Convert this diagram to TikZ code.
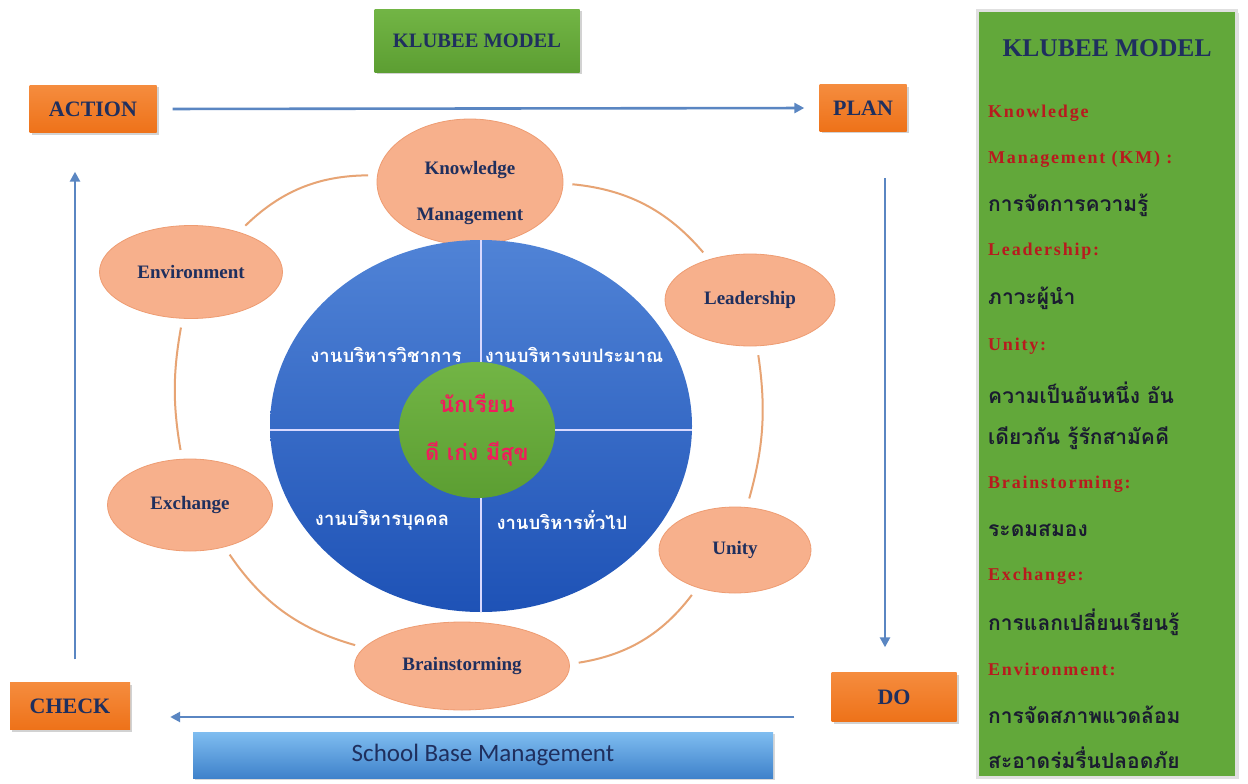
\documentclass[tikz,border=0pt]{standalone}
\usepackage{fontspec}
\setmainfont{Liberation Serif}
\newfontfamily\thaifont[Script=Thai]{Loma}
\newfontfamily\calfont{Carlito}
\newfontfamily\spacedserif[LetterSpace=10]{Liberation Serif}
\usetikzlibrary{shapes.geometric,arrows.meta,shadows}
\definecolor{navy}{HTML}{1F2F5E}
\definecolor{arrowblue}{HTML}{5A86C2}
\definecolor{peach}{HTML}{F7B08C}
\definecolor{peachline}{HTML}{EE9C72}
\definecolor{ringc}{HTML}{E7A474}
\definecolor{orngA}{HTML}{F58C3E}
\definecolor{orngB}{HTML}{EE7219}
\definecolor{grnA}{HTML}{72B545}
\definecolor{grnB}{HTML}{5C9E32}
\definecolor{panelg}{HTML}{62A83A}
\definecolor{redlab}{HTML}{B81A1E}
\definecolor{pinkred}{HTML}{F01C5C}
\definecolor{blueA}{HTML}{5083D6}
\definecolor{blueB}{HTML}{1E52B6}
\definecolor{sbmA}{HTML}{7FBDF0}
\definecolor{sbmB}{HTML}{3F82CB}
\definecolor{thaidark}{HTML}{1A1C30}
\tikzset{
  obox/.style={rectangle, top color=orngA, bottom color=orngB, draw=none,
    drop shadow={shadow xshift=2pt, shadow yshift=-2pt, opacity=0.35},
    font=\bfseries\fontsize{22}{22}\selectfont, text=navy, inner sep=0pt},
  peachell/.style={ellipse, fill=peach, draw=peachline, line width=0.8pt, inner sep=0pt,
    font=\bfseries\fontsize{19}{19}\selectfont, text=navy},
  flow/.style={draw=arrowblue, line width=2.6pt, -{Triangle[length=10pt,width=10pt]}},
  ring/.style={draw=ringc, line width=2pt, shorten <=9pt, shorten >=9pt},
  quad/.style={font=\thaifont\bfseries\fontsize{18.5}{18.5}\selectfont, text=white, inner sep=0pt},
  redl/.style={anchor=west, font=\spacedserif\bfseries\fontsize{18}{18}\selectfont, text=redlab, inner sep=0pt},
  thl/.style={anchor=west, font=\thaifont\bfseries\fontsize{21}{21}\selectfont, text=thaidark, inner sep=0pt},
}
\begin{document}
\begin{tikzpicture}[x=1pt,y=-1pt]
\useasboundingbox (0,0) rectangle (1248,784);
\fill[white] (0,0) rectangle (1248,784);

% top title
\node[rectangle, top color=grnA, bottom color=grnB, minimum width=205pt, minimum height=63pt,
  drop shadow={shadow xshift=2pt, shadow yshift=-2pt, opacity=0.35},
  font=\bfseries\fontsize{20.5}{20.5}\selectfont, text=navy] (title) at (477,41) {KLUBEE MODEL};

% PDCA boxes
\node[obox, minimum width=127pt, minimum height=47pt] (action) at (93,109) {ACTION};
\node[obox, minimum width=87pt, minimum height=46pt] (plan) at (863,108) {PLAN};
\node[obox, minimum width=120pt, minimum height=47pt] (check) at (70,706) {CHECK};
\node[obox, minimum width=125pt, minimum height=49pt] (do) at (894,697) {DO};

% School base management
\node[rectangle, top color=sbmA, bottom color=sbmB, minimum width=580pt, minimum height=46pt,
  drop shadow={shadow xshift=2pt, shadow yshift=-2pt, opacity=0.3},
  font=\calfont\fontsize{25}{25}\selectfont, text=navy] (sbm) at (483,755) {School Base Management};

% PDCA arrows
\draw[flow, shorten <=16pt, shorten >=15pt] (action.east) -- (plan.west);
\draw[flow, shorten <=47pt, shorten >=25pt] ([xshift=22pt]plan.south) -- ([xshift=-9pt]do.north);
\draw[flow, shorten <=37pt, shorten >=40pt] ([yshift=-20pt]do.west) -- ([yshift=-11pt]check.east);
\draw[flow, shorten <=23pt, shorten >=39pt] ([xshift=5pt]check.north) -- ([xshift=-18pt]action.south);

% peach ellipses
\node[peachell, minimum width=186pt, minimum height=126pt, align=center,
  font=\bfseries\fontsize{19}{46}\selectfont, text height=80pt, text depth=4pt] (km) at (470,182) {Knowledge\\Management};
\node[peachell, minimum width=170pt, minimum height=92pt] (lead) at (750,300) {Leadership};
\node[peachell, minimum width=183pt, minimum height=93pt] (env) at (191,272) {Environment};
\node[peachell, minimum width=165pt, minimum height=92pt] (exch) at (190,505) {Exchange};
\node[peachell, minimum width=152pt, minimum height=86pt] (unity) at (735,550) {Unity};
\node[peachell, minimum width=215pt, minimum height=88pt] (brain) at (462,666) {Brainstorming};

% ring arcs
\draw[ring] (env) to[bend left=22] (km);
\draw[ring] (km) to[bend left=22] (lead);
\draw[ring] (lead) to[bend left=12] (unity);
\draw[ring] (unity) to[bend left=22] (brain);
\draw[ring] (brain) to[bend left=20] (exch);
\draw[ring] (exch) to[bend left=10] (env);

% blue disc
\node[ellipse, top color=blueA, bottom color=blueB, minimum width=422pt, minimum height=372pt, inner sep=0pt] (disc) at (481,426) {};
\draw[white!85!blue, line width=2pt] (disc.north) -- (disc.south);
\draw[white!85!blue, line width=2pt] ([yshift=-4pt]disc.west) -- ([yshift=-4pt]disc.east);

\node[quad] (q1) at (386,355) {งานบริหารวิชาการ};
\node[quad] (q2) at (574,355) {งานบริหารงบประมาณ};
\node[quad] (q3) at (382,520) {งานบริหารบุคคล};
\node[quad] (q4) at (562,520) {งานบริหารทั่วไป};

% green centre
\node[ellipse, top color=grnA, bottom color=grnB, minimum width=156pt, minimum height=136pt, inner sep=0pt,
  align=center, font=\thaifont\bfseries\fontsize{22}{48}\selectfont, text=pinkred] (core) at (477,430) {นักเรียน\\ดี เก่ง มีสุข};

% right panel
\node[rectangle, fill=panelg, draw=black!12, line width=3pt, minimum width=259pt, minimum height=766pt,
  drop shadow={shadow xshift=2pt, shadow yshift=-2pt, opacity=0.25}] (panel) at (1107,394) {};
\node[font=\bfseries\fontsize{25.5}{25.5}\selectfont, text=navy] (ptitle) at (1107,48) {KLUBEE MODEL};
\node[redl] (p1) at (988,113) {Knowledge};
\node[redl] (p2) at (988,159) {Management (KM) :};
\node[thl] (p3) at (988,205) {การจัดการความรู้};
\node[redl] (p4) at (988,251) {Leadership:};
\node[thl] (p5) at (988,298) {ภาวะผู้นำ};
\node[redl] (p6) at (988,346) {Unity:};
\node[thl] (p7) at (988,393) {ความเป็นอันหนึ่ง อัน};
\node[thl] (p8) at (988,438) {เดียวกัน รู้รักสามัคคี};
\node[redl] (p9) at (988,484) {Brainstorming:};
\node[thl] (p10) at (988,530) {ระดมสมอง};
\node[redl] (p11) at (988,576) {Exchange:};
\node[thl] (p12) at (988,622) {การแลกเปลี่ยนเรียนรู้};
\node[redl] (p13) at (988,669) {Environment:};
\node[thl] (p14) at (988,715) {การจัดสภาพแวดล้อม};
\node[thl] (p15) at (988,758) {สะอาดร่มรื่นปลอดภัย};
\end{tikzpicture}
\end{document}
